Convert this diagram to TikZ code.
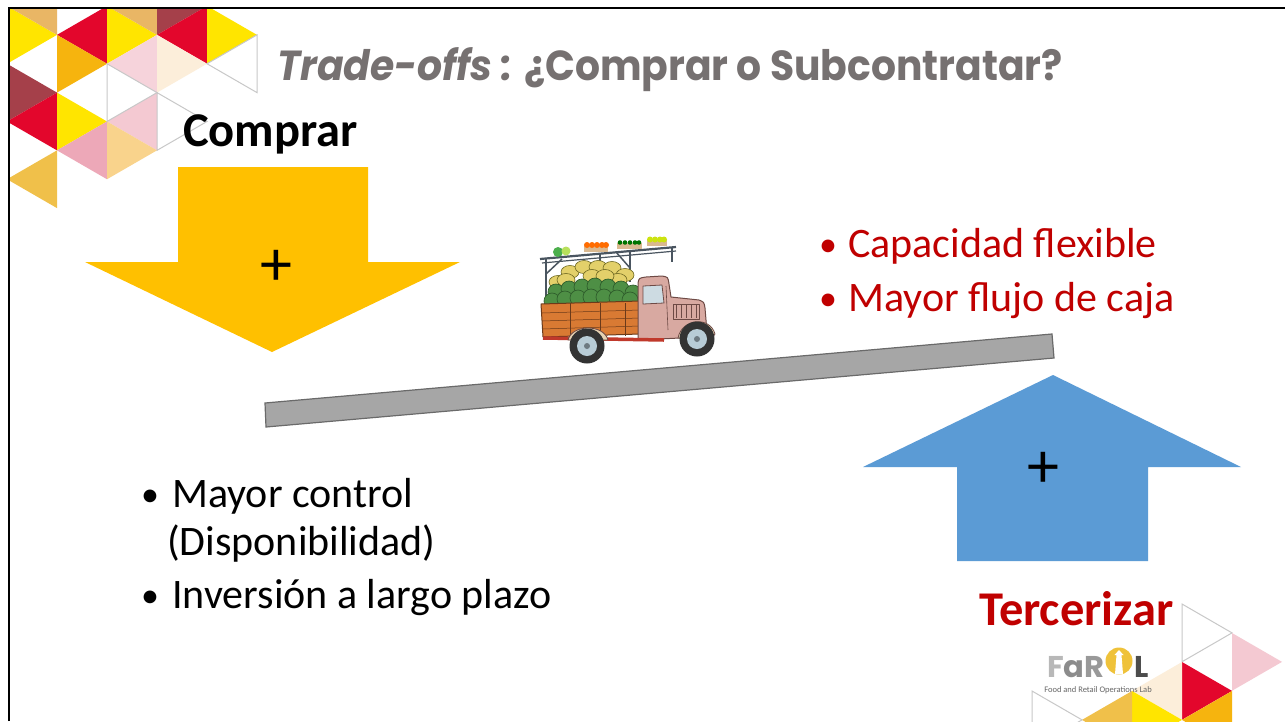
\documentclass[tikz,border=0pt]{standalone}
\usepackage{fontspec}
\setmainfont{Carlito}
\newfontfamily\titlefont{Poppins}
\usetikzlibrary{calc}

% palette
\definecolor{titlegray}{HTML}{767171}
\definecolor{darkred}{HTML}{C00000}
\definecolor{gold}{HTML}{FFC000}
\definecolor{skyblue}{HTML}{5B9BD5}
\definecolor{bargray}{HTML}{A6A6A6}
\definecolor{baredge}{HTML}{6A6A6A}
\definecolor{tyellow}{HTML}{FFE500}
\definecolor{tred}{HTML}{E3062C}
\definecolor{tmaroon}{HTML}{A5404A}
\definecolor{tamber}{HTML}{F6B40E}
\definecolor{ttan}{HTML}{E9B665}
\definecolor{tmustard}{HTML}{F0C04A}
\definecolor{tpink}{HTML}{EDA8B8}
\definecolor{tlpink}{HTML}{F6D3DB}
\definecolor{tcream}{HTML}{FCEEDA}
\definecolor{tlorange}{HTML}{F9D38C}
\definecolor{tpinkb}{HTML}{F4C9D2}
\definecolor{tline}{HTML}{C8C8C8}
% truck colours
\definecolor{bedorange}{HTML}{D97A33}
\definecolor{bededge}{HTML}{6B3A1A}
\definecolor{cabpink}{HTML}{D8A9A1}
\definecolor{cabedge}{HTML}{6E4A45}
\definecolor{fenderbeige}{HTML}{E6D2B2}
\definecolor{hubblue}{HTML}{B8CCD6}
\definecolor{rackslate}{HTML}{4A5560}
\definecolor{melongreen}{HTML}{4E8F45}
\definecolor{melonedge}{HTML}{2F5E2C}
\definecolor{melonyellow}{HTML}{E3D06A}
\definecolor{chassisred}{HTML}{C0392B}
\definecolor{logoyellow}{HTML}{EFC23A}

% triangles of the side lattice: vertical edge at x=#1 from y=#2 downwards
\newcommand\trR[3]{\fill[#3] (#1,#2) -- ++(0,57.74) -- ++(50,-28.87) -- cycle;}
\newcommand\trL[3]{\fill[#3] (#1,#2) -- ++(0,57.74) -- ++(-50,-28.87) -- cycle;}
\newcommand\trRo[2]{\draw[tline,line width=1pt] (#1,#2) -- ++(0,57.74) -- ++(50,-28.87) -- cycle;}
\newcommand\trLo[2]{\draw[tline,line width=1pt] (#1,#2) -- ++(0,57.74) -- ++(-50,-28.87) -- cycle;}

\tikzset{
  heading/.style={anchor=base west, inner sep=0pt, font=\fontsize{48.5}{48.5}\selectfont\bfseries},
  bodytext/.style={anchor=base west, inner sep=0pt, font=\fontsize{42}{48}\selectfont},
  bulletdot/.style={anchor=base west, inner sep=0pt, font=\fontsize{36}{36}\selectfont},
  plussign/.style={inner sep=0pt, font=\fontsize{64}{64}\selectfont},
  logotext/.style={anchor=base west, inner sep=0pt, font=\fontsize{30}{30}\selectfont\titlefont\bfseries},
}

\begin{document}
\begin{tikzpicture}[x=1pt,y=-1pt]
\useasboundingbox (0,0) rectangle (1285,721);
\fill[white] (0,0) rectangle (1285,721);

% corner lattice, top left
\begin{scope}
\clip (10,9.5) rectangle (320,260);
\trR{7}{6}{tyellow}
\trL{57}{-22.87}{ttan}
\trR{7}{63.74}{tmaroon}
\trL{57}{92.61}{tred}
\trL{57}{150.35}{tmustard}
\trL{107}{6}{tred}
\trR{57}{34.87}{tamber}
\trR{57}{92.61}{tyellow}
\trL{107}{121.48}{tpink}
\trR{107}{6}{tyellow}
\trL{157}{-22.87}{ttan}
\trL{157}{34.87}{tlpink}
\trL{157}{92.61}{tpinkb}
\trR{107}{121.48}{tlorange}
\trR{157}{-22.87}{tmaroon}
\trL{207}{6}{tred}
\trR{157}{34.87}{tcream}
\trR{207}{6}{tyellow}
\trRo{107}{63.74}
\trRo{157}{92.61}
\trLo{257}{34.87}
\end{scope}

% corner lattice, bottom right
\begin{scope}
\clip (900,560) rectangle (1285,721);
\trRo{1182}{604}
\trR{1232}{633}{tpinkb}
\trR{1182}{662}{tred}
\trL{1232}{691}{tamber}
\trL{1182}{662}{tcream}
\trR{1132}{691}{tyellow}
\trL{1132}{691}{tmustard}
\trRo{1032}{691}
\end{scope}

% slide frame
\draw[line width=2.6pt] (9,721) -- (9,8) -- (1285,8);

% title
\node[anchor=base west, inner sep=0pt, text=titlegray,
  font=\fontsize{42}{42}\selectfont\titlefont\bfseries] (title) at (277,80)
  {\scalebox{0.935}[1]{\itshape Trade-offs\/ :\upshape{} ¿Comprar o Subcontratar?}};

% headings
\node[heading] (comprar) at (183,146) {Comprar};
\node[heading, text=darkred] (tercerizar) at (979,625) {Tercerizar};

% downward arrow (buy)
\fill[gold] (178,167) -- (368,167) -- (368,262) -- (460,262) -- (272,352)
  -- (85,262) -- (178,262) -- cycle;
\node[plussign] (plusbuy) at (276,268) {+};

% upward arrow (outsource)
\fill[skyblue] (957,561) -- (1148,561) -- (1148,467) -- (1241,467) -- (1053,375)
  -- (863,467) -- (957,467) -- cycle;
\node[plussign] (plusout) at (1043,470) {+};

% tilted beam
\filldraw[fill=bargray, draw=baredge, line width=1.2pt]
  (265,403) -- (1052,334) -- (1054,358) -- (266,427) -- cycle;

% red bullets
\node[bulletdot, text=darkred] (b1dot) at (819,256) {•};
\node[bodytext, text=darkred] (b1) at (848,257) {Capacidad flexible};
\node[bulletdot, text=darkred] (b2dot) at (819,310) {•};
\node[bodytext, text=darkred] (b2) at (848,311) {Mayor flujo de caja};

% black bullets
\node[bulletdot] (b3dot) at (141,506) {•};
\node[bodytext] (b3) at (172,507) {Mayor control};
\node[bodytext] (b3b) at (167,555) {(Disponibilidad)};
\node[bulletdot] (b4dot) at (141,607) {•};
\node[bodytext] (b4) at (172,608) {Inversión a largo plazo};

% produce truck
\begin{scope}[line join=round]
  % rack
  \draw[rackslate, line width=2pt] (546,302) -- (546,258);
  \draw[rackslate, line width=2pt] (630,282) -- (630,251);
  \draw[rackslate, line width=2pt] (600,270) -- (600,254);
  \draw[rackslate, line width=1.5pt] (546,274) -- (562,259);
  \draw[rackslate, line width=1.5pt] (630,268) -- (616,252);
  \draw[rackslate, line width=2.2pt] (540,259) -- (676,247);
  \draw[rackslate, line width=1.2pt] (542,263) -- (676,251);
  \draw[rackslate, line width=1.5pt] (672,247) -- (672,262);
  % crates on the rack
  \fill[fenderbeige!70!brown] (584,246) rectangle (608,252);
  \foreach \cx in {587,592,597,602,606} \fill[orange!85!red] (\cx,245) circle (3);
  \fill[fenderbeige!70!brown] (617,243) rectangle (642,249);
  \foreach \cx in {620,625,630,635,639} \fill[green!45!black] (\cx,242.5) circle (2.3);
  \fill[fenderbeige!70!brown] (647,240) rectangle (667,246);
  \foreach \cx in {650,655,660,664} \fill[yellow!80!green] (\cx,239.5) circle (3);
  \fill[green!55!black!70] (558,252) circle (5);
  \fill[yellow!60!green!70] (566,251) circle (4.5);
  % melons
  \foreach \mx/\my in {558/282,570/272,584/267,598/267,612/268,625/275,566/280,618/280,592/276,605/276}
    \filldraw[fill=melonyellow, draw=olive!70!black, line width=0.6pt] (\mx,\my) ellipse (9 and 6.5);
  % watermelons
  \foreach \mx/\my in {556/292,569/289,582/287,595/286,608/287,621/289,633/293,552/301,565/299,578/298,591/297,604/297,617/298,630/300}
    \filldraw[fill=melongreen, draw=melonedge, line width=0.7pt] (\mx,\my) circle (8);
  % cargo bed
  \filldraw[fill=bedorange, draw=bededge, line width=1pt]
    (541,304) -- (640,301) -- (640,334) -- (543,337) -- cycle;
  \foreach \py in {312,320,328} \draw[bededge, line width=0.5pt] (542,\py+1) -- (640,\py-2);
  \foreach \px in {570,600,625} \draw[bededge, line width=0.8pt] (\px,303) -- (\px,336);
  % cab
  \filldraw[fill=cabpink, draw=cabedge, line width=1pt]
    (638,340) -- (638,283) .. controls (639,278) .. (646,277) -- (662,276)
    .. controls (668,277) .. (669,284) -- (671,297) -- (699,300)
    .. controls (704,302) .. (705,308) -- (707,332) -- (680,338) -- cycle;
  \filldraw[fill=hubblue!70!white, draw=cabedge, line width=0.8pt]
    (643,286) -- (662,285) -- (664,303) -- (643,304) -- cycle;
  \draw[cabedge, line width=0.6pt] (666,286) -- (668,330);
  \foreach \gx in {676,681,686,691,696}
    \draw[cabedge, line width=0.6pt] (\gx,305) -- (\gx,318);
  \draw[cabedge, line width=0.6pt] (673,304) rectangle (699,319);
  % chassis
  \draw[chassisred, line width=3.5pt] (543,338) -- (664,340);
  % fenders
  \filldraw[fill=fenderbeige, draw=cabedge, line width=0.8pt]
    (678,338) .. controls (682,318) and (710,316) .. (715,334) -- (712,338) -- cycle;
  \filldraw[fill=fenderbeige, draw=cabedge, line width=0.8pt]
    (568,340) .. controls (572,324) and (604,324) .. (608,340) -- cycle;
  % wheels
  \foreach \wx/\wy in {587/346,697/339} {
    \fill[black!80] (\wx,\wy) circle (17.5);
    \fill[hubblue] (\wx,\wy) circle (10);
    \fill[hubblue!60!black] (\wx,\wy) circle (3);
  }
\end{scope}

% FaROL logo
\node[logotext] (logoword) at (1047,677)
  {\scalebox{1.02}[1]{\textcolor{black!28}{F}\textcolor{black!45}{a}\textcolor{black!40}{R}}};
\fill[logoyellow] (1119,661) circle (13.5);
\fill[white] (1115,674) -- (1116.5,655) -- (1121.5,655) -- (1123,674) -- cycle;
\fill[white] (1114.5,655) -- (1119,650) -- (1123.5,655) -- cycle;
\node[logotext, text=black!70] (logoL) at (1134,677) {L};
\node[anchor=base, inner sep=0pt, font=\fontsize{8.5}{9}\selectfont, text=black!60]
  (logosub) at (1098,692) {Food and Retail Operations Lab};
\end{tikzpicture}
\end{document}
